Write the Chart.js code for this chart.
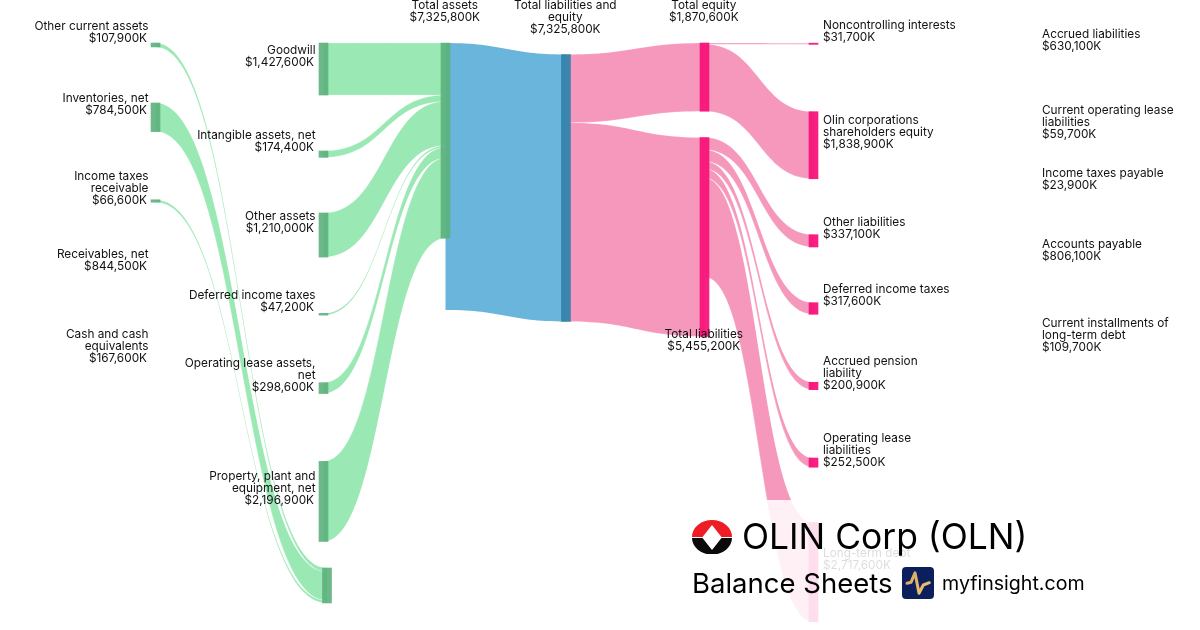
<!DOCTYPE html>
<html>
<head>
<meta charset="utf-8">
<script src="https://cdn.jsdelivr.net/npm/chart.js@4"></script>
<style>
html,body{margin:0;padding:0;background:#fff;width:1200px;height:630px;overflow:hidden}
#wrap{position:relative;width:1200px;height:630px}
canvas{position:absolute;left:0;top:0}
#veil{position:absolute;left:680px;top:500px;width:420px;height:130px;background:rgba(255,255,255,.85)}
.t{position:absolute;font-family:Inter,sans-serif;color:#000;white-space:nowrap;line-height:1}
svg{position:absolute}
</style>
</head>
<body>
<div id="wrap">
<canvas id="c" width="1200" height="630"></canvas>
<div id="veil"></div>
<svg style="left:692px;top:520px" width="40" height="34" viewBox="0 0 40 34">
  <path d="M0 17 A20 17 0 0 1 40 17 L29.5 17 L20 5 L10.5 17 Z" fill="#ee1c25"/>
  <path d="M0 18 A20 16.5 0 0 0 40 18 L29.5 18 L20 30 L10.5 18 Z" fill="#0a0a0a"/>
</svg>
<div class="t" id="t1" style="left:742px;top:519px;font-size:35.4px">OLIN Corp (OLN)</div>
<div class="t" id="t2" style="left:692px;top:570px;font-size:27.5px">Balance Sheets</div>
<svg style="left:902px;top:567px" width="32" height="32" viewBox="0 0 32 32">
  <defs><linearGradient id="g" x1="0" y1="0" x2="1" y2="1"><stop offset="0" stop-color="#d9a566"/><stop offset="1" stop-color="#f0c66e"/></linearGradient></defs>
  <rect width="32" height="32" rx="4" fill="#0a1f5c"/>
  <path d="M5 16.3 L9 15.3 L13 5.8 L17 26.3 L21.3 18 L27.3 15.7" fill="none" stroke="url(#g)" stroke-width="3" stroke-linecap="round" stroke-linejoin="round"/>
</svg>
<div class="t" id="t3" style="left:942px;top:574px;font-size:19.6px">myfinsight.com</div>
</div>
<script>
// Nodes: names, $K values, and layout on the chart's scales
const nodeNames = [
  'Other current assets','Inventories, net','Income taxes\nreceivable','Receivables, net','Cash and cash\nequivalents',
  'Goodwill','Intangible assets, net','Other assets','Deferred income taxes','Operating lease assets,\nnet','Property, plant and\nequipment, net','',
  'Total assets','Total liabilities and\nequity','Total equity','Total liabilities',
  'Noncontrolling interests','Olin corporations\nshareholders equity','Other liabilities','Deferred income taxes','Accrued pension\nliability','Operating lease\nliabilities','Long-term debt',
  'Accrued liabilities','Current operating lease\nliabilities','Income taxes payable','Accounts payable','Current installments of\nlong-term debt'
];
const nodeValues = [
  107900,784500,66600,844500,167600,
  1427600,174400,1210000,47200,298600,2196900,959000,
  7325800,7325800,1870600,5455200,
  31700,1838900,337100,317600,200900,252500,2717600,
  630100,59700,23900,806100,109700
];
const nodeColumnX = [
  155.5,155.5,155.5,155.5,155.5,
  323.5,323.5,323.5,323.5,323.5,323.5,327,
  445.5,566,704.5,704.5,
  813.5,813.5,813.5,813.5,813.5,813.5,813.5,
  1032.5,1032.5,1032.5,1032.5,1032.5
];
const nodeTopK = [
  1180000,2826000,5482000,7491000,9850000,
  1180000,4143000,5844000,8599000,10500000,12660000,15585000,
  1180000,1495000,1180000,3773000,
  1185000,3065000,6440000,8306000,10490000,12567000,14342000,
  1454000,3704000,5268000,7216000,9549000
];
const nodeGroup = [
  0,0,0,0,0, 0,0,0,0,0,0,0,
  0,1,2,2, 2,2,2,2,2,2,2, 2,2,2,2,2
];
// Links: source index, target index, $K
const linkSource = [0,1,2, 5,6,7,8,9,10, 12, 13,13, 14,14, 15,15,15,15,15];
const linkTarget = [11,11,11, 12,12,12,12,12,12, 13, 14,15, 16,17, 18,19,20,21,22];
const linkValue  = [107900,784500,66600, 1427600,174400,1210000,47200,298600,2196900, 7325800, 1870600,5455200, 31700,1838900, 337100,317600,200900,252500,2717600];
const linkGroup  = [0,0,0, 0,0,0,0,0,0, 1, 2,2, 2,2, 2,2,2,2,2];

const nodeColors = ['rgba(92,176,124,.9)','rgba(48,130,170,.92)','rgba(248,20,122,.95)'];
const linkColors = ['#9ae8b4','#69b5dc','#f598bc'];
// Pixel centres of the labels that sit apart from their node (top/bottom of the column)
const detachedLabelY = {12:11, 13:17, 14:11, 15:340};

const inSum = nodeNames.map((_,i)=>linkValue.filter((v,l)=>linkTarget[l]===i).reduce((a,b)=>a+b,0));
const outSum = nodeNames.map((_,i)=>linkValue.filter((v,l)=>linkSource[l]===i).reduce((a,b)=>a+b,0));
const nodeHeight = nodeNames.map((_,i)=>inSum[i]||outSum[i]);

const barData=[], barColors=[];
nodeNames.forEach((_,i)=>{
  if(nodeHeight[i]>0){
    barData.push({x:nodeColumnX[i],y:[nodeTopK[i],nodeTopK[i]+nodeHeight[i]]});
    barColors.push(nodeColors[nodeGroup[i]]);
  }
});

const sankeyPlugin={
  id:'sankey',
  beforeDatasetsDraw(chart){
    const {ctx,scales:{x,y}}=chart;
    const srcUsed=nodeNames.map(()=>0), tgtUsed=nodeNames.map(()=>0);
    ctx.save();
    linkValue.forEach((v,l)=>{
      const s=linkSource[l],t=linkTarget[l];
      const x0=x.getPixelForValue(nodeColumnX[s]), x1=x.getPixelForValue(nodeColumnX[t]), xm=(x0+x1)/2;
      const a0=y.getPixelForValue(nodeTopK[s]+srcUsed[s]), a1=y.getPixelForValue(nodeTopK[s]+srcUsed[s]+v);
      const b0=y.getPixelForValue(nodeTopK[t]+tgtUsed[t]), b1=y.getPixelForValue(nodeTopK[t]+tgtUsed[t]+v);
      srcUsed[s]+=v; tgtUsed[t]+=v;
      ctx.beginPath();
      ctx.moveTo(x0,a0);
      ctx.bezierCurveTo(xm,a0,xm,b0,x1,b0);
      ctx.lineTo(x1,b1);
      ctx.bezierCurveTo(xm,b1,xm,a1,x0,a1);
      ctx.closePath();
      ctx.fillStyle=linkColors[linkGroup[l]];
      ctx.fill();
      if(linkGroup[l]===0 || linkGroup[l]===2){ctx.strokeStyle='rgba(255,255,255,.35)';ctx.lineWidth=.5;ctx.stroke();}
    });
    ctx.restore();
  },
  afterDatasetsDraw(chart){
    const {ctx,scales:{x,y}}=chart;
    ctx.save();
    ctx.font='11.8px Inter, sans-serif';
    ctx.fillStyle='#111';
    ctx.textBaseline='middle';
    nodeNames.forEach((name,i)=>{
      if(!name) return;
      const lines=name.split('\n');
      const value='$'+nodeValues[i].toLocaleString('en-US')+'K';
      const all=lines.concat([value]);
      const cx=x.getPixelForValue(nodeColumnX[i]);
      const top=y.getPixelForValue(nodeTopK[i]), bot=y.getPixelForValue(nodeTopK[i]+nodeHeight[i]);
      const detached=detachedLabelY[i];
      const cy=detached!==undefined?detached:(top+bot)/2-12.6;
      all.forEach((ln,k)=>{
        const ly=cy+(k-(all.length-1)/2)*12;
        const isVal=k===all.length-1;
        if(detached!==undefined){ctx.textAlign='center';ctx.fillText(ln,cx-0.7,ly);}
        else if(cx<400){ctx.textAlign='right';ctx.fillText(ln,cx-(cx<200?7:8)-(isVal?1.5:0),ly);}
        else{ctx.textAlign='left';ctx.fillText(ln,cx+9.5,ly);}
      });
    });
    ctx.restore();
  }
};

new Chart(document.getElementById('c'),{
  type:'bar',
  data:{datasets:[{data:barData,backgroundColor:barColors,borderWidth:0,barThickness:9,grouped:false}]},
  options:{
    responsive:false,animation:false,
    layout:{padding:0},
    plugins:{legend:{display:false},tooltip:{enabled:false},title:{display:false}},
    scales:{
      x:{type:'linear',min:0,max:1200,display:false,offset:false},
      y:{type:'linear',min:0,max:17286000,reverse:true,display:false}
    }
  },
  plugins:[sankeyPlugin]
});
</script>
</body>
</html>
